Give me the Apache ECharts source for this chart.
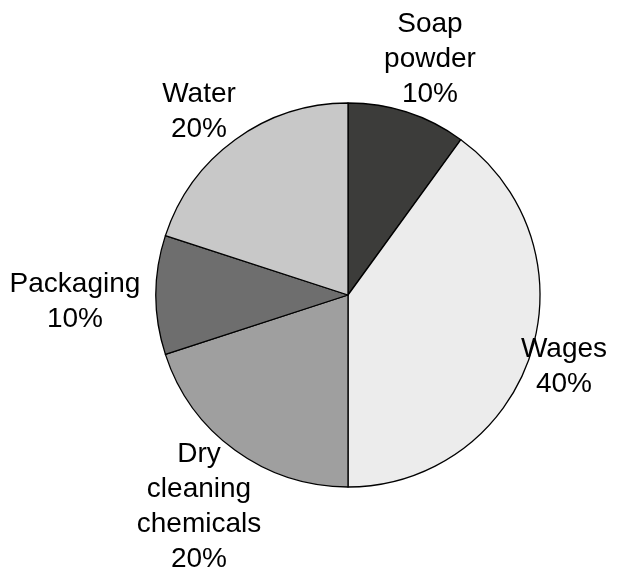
<!DOCTYPE html>
<html>
<head>
<meta charset="utf-8">
<script src="https://cdn.jsdelivr.net/npm/echarts@6/dist/echarts.min.js"></script>
<style>
  html, body { margin: 0; padding: 0; background: #fff; }
  #main { width: 640px; height: 574px; }
</style>
</head>
<body>
<div id="main"></div>
<script>
// data, clockwise from 12 o'clock
let categories = ['Soap\npowder', 'Wages', 'Dry\ncleaning\nchemicals', 'Packaging', 'Water'];
let shares = [10, 40, 20, 10, 20];
let sliceColors = ['#3c3c3a', '#ececec', '#9f9f9f', '#6e6e6e', '#c8c8c8'];

let chartDom = document.getElementById('main');
let myChart = echarts.init(chartDom);

const cx = 348, cy = 295, R = 192;
// where the middle of each label block sits, relative to the pie centre
const labelOffsets = [[82, -237], [216, 70], [-149, 210], [-273, 5], [-149, -185]];

let option = {
    animation: false,
    backgroundColor: '#fff',
    series: [
        {
            type: 'pie',
            center: [cx, cy],
            radius: R,
            startAngle: 90,
            clockwise: true,
            label: {
                show: true,
                position: 'outside',
                color: '#000',
                fontFamily: 'Liberation Sans, Arial, sans-serif',
                fontSize: 28,
                lineHeight: 35,
                align: 'center',
                overflow: 'none',
                formatter: p => p.name + '\n' + p.value + '%'
            },
            labelLine: { show: false },
            labelLayout: function (p) {
                const o = labelOffsets[p.dataIndex];
                return {
                    x: cx + o[0],
                    y: cy + o[1] + 1.5,
                    align: 'center',
                    verticalAlign: 'middle'
                };
            },
            itemStyle: {
                borderColor: '#000',
                borderWidth: 1.3
            },
            emphasis: { disabled: true },
            data: categories.map((c, i) => ({
                name: c,
                value: shares[i],
                itemStyle: { color: sliceColors[i] }
            }))
        }
    ]
};

option && myChart.setOption(option);
</script>
</body>
</html>
